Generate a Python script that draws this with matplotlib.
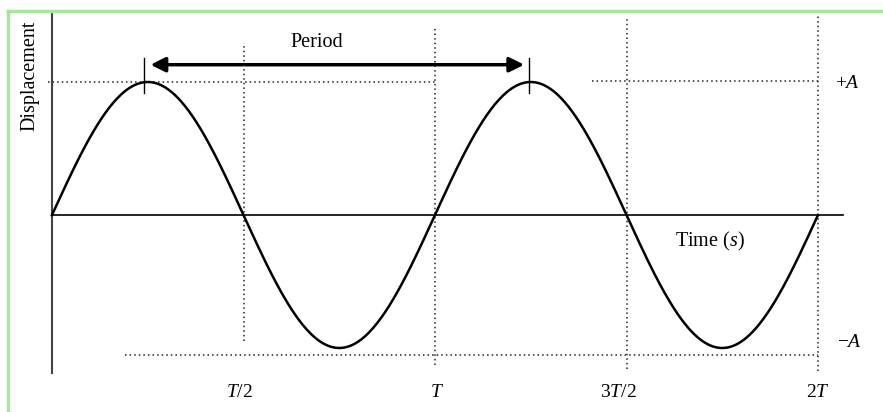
import matplotlib.pyplot as plt
import numpy as np
from matplotlib.patches import FancyArrowPatch

# Wave parameters (time in units of T, displacement in units of A)
period = 1.0
amplitude = 1.0
t_end = 2.0

# Guide lines
guide_times = [0.5, 1.0, 1.5, 2.0]
guide_tops = [1.29, 1.42, 1.49, 1.51]
guide_bottoms = [-0.95, -1.13, -1.16, -1.17]
tick_texts = ["$T/2$", "$T$", "$3T/2$", "$2T$"]
tick_text_x = [0.49, 1.005, 1.48, 2.0]

# Period marker
period_start = 0.24
period_end = 1.245

fig = plt.figure(figsize=(8.83, 4.12), dpi=100)
ax = fig.add_axes([0, 0, 1, 1])
ax.set_xlim(-52 / 383, (883 - 52) / 383)
ax.set_ylim((215 - 412) / 133, 215 / 133)
ax.axis("off")

plt.rcParams["mathtext.fontset"] = "custom"
plt.rcParams["mathtext.it"] = "Liberation Serif:italic"
plt.rcParams["mathtext.rm"] = "Liberation Serif"
serif = "Liberation Serif"

# green frame
fig.add_artist(plt.Line2D([8 / 883, 1], [1 - 11 / 412] * 2, color="#a6e69e", lw=2.5, transform=fig.transFigure))
fig.add_artist(plt.Line2D([8 / 883] * 2, [0, 1 - 11 / 412], color="#a6e69e", lw=2.5, transform=fig.transFigure))

dot = dict(color="#222222", lw=1.1, ls=(0, (1, 2)))

# horizontal dotted guides
ax.plot([-0.01, 1.0], [1.0, 1.0], **dot)
ax.plot([1.41, 2.0], [1.01, 1.01], **dot)
ax.plot([0.19, 2.0], [-1.05, -1.05], **dot)

# vertical dotted guides
for gx, top, bot in zip(guide_times, guide_tops, guide_bottoms):
    ax.plot([gx, gx], [bot, top], **dot)

# axes
ax.plot([0, 0], [1.52, -1.19], color="#444444", lw=1.5)
ax.plot([0, 2.065], [0, 0], color="black", lw=1.2)

# wave
t = np.linspace(0, t_end, 600)
ax.plot(t, amplitude * np.sin(2 * np.pi * t / period), color="black", lw=1.8)

# period marker
for px in [period_start, period_end]:
    ax.plot([px, px], [1.18, 0.92], color="black", lw=1)
arrow = FancyArrowPatch((period_start + 0.01, 1.13), (period_end - 0.005, 1.13),
                        arrowstyle="<|-|>", mutation_scale=22, lw=2.5, color="black")
ax.add_patch(arrow)
ax.text(0.69, 1.30, "Period", fontsize=14.5, family=serif, ha="center", va="center")

# labels
ax.text(-0.057, 1.05, "Displacement", fontsize=14.5, family=serif, rotation=90, ha="center", va="center")
ax.text(1.718, -0.2, "Time ($s$)", fontsize=14.5, family=serif, ha="center", va="center")
ax.text(2.044, 1.0, "$+A$", fontsize=14, ha="left", va="center")
ax.text(2.05, -0.95, "$-A$", fontsize=14, ha="left", va="center")
for tx, lab in zip(tick_text_x, tick_texts):
    ax.text(tx, -1.33, lab, fontsize=14, ha="center", va="center")

fig.savefig("out.png", dpi=100)
